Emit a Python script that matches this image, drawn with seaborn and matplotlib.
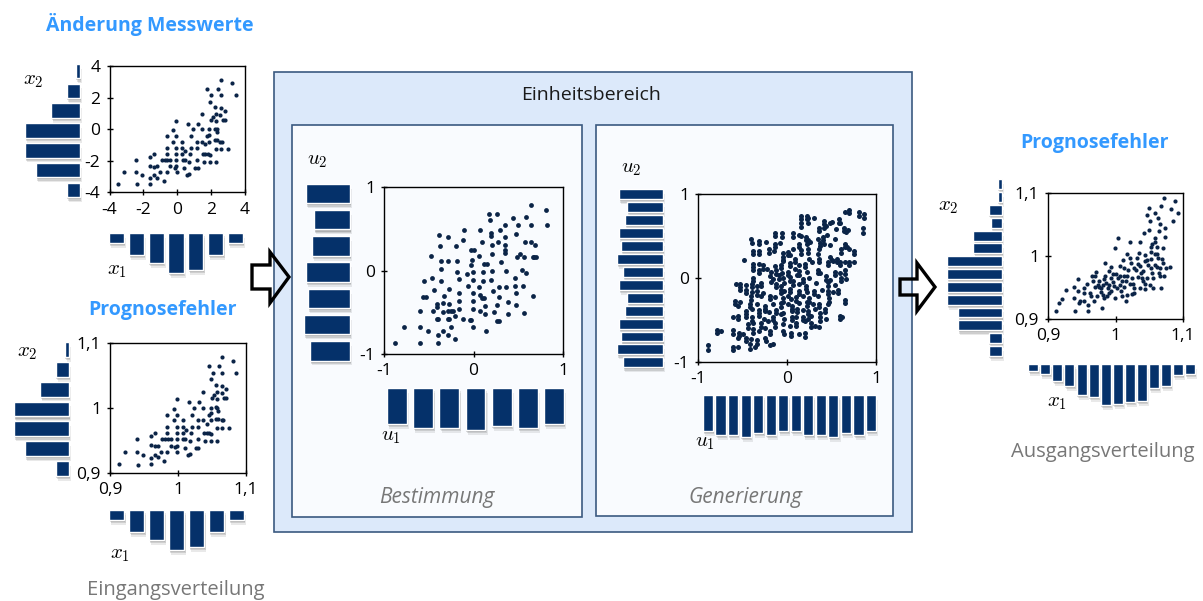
import matplotlib
matplotlib.use("Agg")
import matplotlib.pyplot as plt
import matplotlib.patheffects as pe
from matplotlib.patches import Rectangle, Polygon
import numpy as np
import seaborn as sns

sns.set_style("white")
plt.rcParams["font.family"] = ["Open Sans", "DejaVu Sans"]
plt.rcParams["mathtext.fontset"] = "cm"
plt.rcParams["axes.unicode_minus"] = False

W, H = 1203, 601
NAVY = "#05316A"
DOT = "#0B2447"
TITLE_BLUE = "#3399FF"
GREY_TEXT = "#777777"
FRAME = "#3B5A80"
OUTER_FILL = "#DCE9FA"
INNER_FILL = "#F9FBFE"

# ---------------- data ----------------
# Änderung Messwerte (x1, x2)
change_points = [
    (-3.49, -3.45), (-3.13, -2.67), (-2.44, -1.94), (-2.44, -2.67), (-2.38, -3.47),
    (-2.06, -2.88), (-1.62, -1.73), (-1.35, -1.54), (-1.62, -2.29), (-1.35, -2.36),
    (-1.17, -2.32), (-1.62, -3.07), (-1.62, -3.45), (-1.35, -2.88), (-1.17, -3.05),
    (-0.99, -2.67), (-0.79, -3.24), (-0.91, -1.94), (-0.75, -1.94), (-0.61, -1.94),
    (-0.63, -1.54), (-0.63, -1.16), (-0.63, -0.40), (-0.63, -2.67), (-0.40, -1.94),
    (-0.40, -2.32), (-0.26, -0.78), (-0.26, -0.04), (-0.08, -1.94), (-0.08, -2.32),
    (-0.08, -1.54), (-0.08, -1.16), (-0.08, -0.40), (-0.06, 0.55), (-0.16, -2.42),
    (-0.04, -2.67), (0.28, -0.78), (0.28, -1.16), (0.28, -1.54), (0.32, -1.94),
    (0.44, -1.94), (0.38, -2.46), (0.57, -2.88), (0.67, -2.80), (0.48, -1.35),
    (0.63, 0.36), (0.77, -1.54), (0.83, -0.40), (0.91, 0.00), (0.67, -2.04),
    (0.83, -1.16), (1.15, -0.78), (1.15, -1.16), (1.23, 0.38), (1.05, -2.46),
    (1.21, -2.46), (1.19, -1.94), (1.47, 0.97), (1.47, 0.00), (1.47, -0.78),
    (1.52, -1.54), (1.66, -1.54), (1.58, -2.04), (1.66, -0.95), (1.78, -0.40),
    (1.82, -1.58), (1.94, -1.62), (1.90, -0.78), (1.90, 0.00), (1.90, -0.32),
    (1.94, -2.04), (1.78, 2.55), (1.94, 1.75), (2.02, 2.17), (1.98, 0.63),
    (2.12, 0.80), (2.22, 1.43), (2.26, 1.01), (2.26, 0.57), (2.22, 0.06),
    (2.32, 0.00), (2.36, -0.15), (2.22, -0.69), (2.36, -0.69), (2.26, -1.24),
    (2.26, -2.04), (2.38, 2.55), (2.61, 3.12), (2.61, 2.17), (2.61, 1.37),
    (2.55, 0.91), (2.69, 0.63), (2.81, 0.63), (2.81, 1.20), (2.55, -0.78),
    (2.65, -0.78), (2.61, -1.24), (3.01, -1.24), (3.25, 2.93), (3.45, 2.17),
]

# Prognosefehler, Eingang (x1, x2)
error_in_points = [
    (0.913, 0.914), (0.922, 0.933), (0.939, 0.952), (0.939, 0.933), (0.941, 0.913),
    (0.949, 0.928), (0.960, 0.957), (0.966, 0.962), (0.960, 0.943), (0.966, 0.941),
    (0.971, 0.942), (0.960, 0.923), (0.960, 0.914), (0.966, 0.928), (0.971, 0.924),
    (0.975, 0.933), (0.980, 0.919), (0.977, 0.952), (0.981, 0.952), (0.985, 0.952),
    (0.984, 0.962), (0.984, 0.971), (0.984, 0.990), (0.984, 0.933), (0.990, 0.952),
    (0.990, 0.942), (0.994, 0.981), (0.994, 0.999), (0.998, 0.952), (0.998, 0.942),
    (0.998, 0.962), (0.998, 0.971), (0.998, 0.990), (0.999, 1.014), (0.996, 0.940),
    (0.999, 0.933), (1.007, 0.981), (1.007, 0.971), (1.007, 0.962), (1.008, 0.952),
    (1.011, 0.952), (1.010, 0.939), (1.014, 0.928), (1.017, 0.930), (1.012, 0.966),
    (1.016, 1.009), (1.019, 0.962), (1.021, 0.990), (1.023, 1.000), (1.017, 0.949),
    (1.021, 0.971), (1.029, 0.981), (1.029, 0.971), (1.031, 1.010), (1.026, 0.939),
    (1.030, 0.939), (1.030, 0.952), (1.037, 1.024), (1.037, 1.000), (1.037, 0.981),
    (1.038, 0.962), (1.042, 0.962), (1.040, 0.949), (1.042, 0.976), (1.045, 0.990),
    (1.046, 0.961), (1.049, 0.960), (1.048, 0.981), (1.048, 1.000), (1.048, 0.992),
    (1.049, 0.949), (1.045, 1.064), (1.049, 1.044), (1.051, 1.054), (1.050, 1.016),
    (1.053, 1.020), (1.056, 1.036), (1.057, 1.025), (1.057, 1.014), (1.056, 1.002),
    (1.058, 1.000), (1.059, 0.996), (1.056, 0.983), (1.059, 0.983), (1.057, 0.969),
    (1.057, 0.949), (1.060, 1.064), (1.065, 1.078), (1.065, 1.054), (1.065, 1.034),
    (1.064, 1.023), (1.067, 1.016), (1.070, 1.016), (1.070, 1.030), (1.064, 0.981),
    (1.066, 0.981), (1.065, 0.969), (1.075, 0.969), (1.081, 1.073), (1.086, 1.054),
]

# Einheitsbereich – Bestimmung (u1, u2)
fit_points = [
    (-0.88, -0.87), (-0.78, -0.68), (-0.60, -0.87), (-0.60, -0.68), (-0.60, -0.48),
    (-0.51, -0.72), (-0.56, -0.32), (-0.53, -0.32), (-0.55, -0.12), (-0.46, -0.09),
    (-0.44, -0.23), (-0.45, -0.49), (-0.41, -0.40), (-0.41, -0.44), (-0.41, -0.58),
    (-0.40, -0.58), (-0.40, -0.77), (-0.40, -0.87), (-0.47, 0.17), (-0.39, 0.42),
    (-0.37, 0.29), (-0.36, 0.11), (-0.36, 0.02), (-0.36, -0.12), (-0.34, -0.39),
    (-0.34, -0.50), (-0.34, -0.72), (-0.33, -0.30), (-0.29, 0.40), (-0.28, 0.11),
    (-0.27, -0.22), (-0.27, -0.40), (-0.28, -0.49), (-0.25, -0.49), (-0.23, -0.49),
    (-0.29, -0.58), (-0.27, -0.58), (-0.29, -0.77), (-0.25, -0.68), (-0.21, -0.82),
    (-0.21, -0.54), (-0.20, 0.29), (-0.18, 0.11), (-0.18, -0.02), (-0.16, -0.10),
    (-0.16, -0.27), (-0.16, -0.36), (-0.16, -0.46), (-0.12, 0.37), (-0.11, 0.49),
    (-0.12, -0.58), (-0.07, -0.04), (-0.01, -0.02), (-0.06, -0.18), (-0.04, -0.59),
    (-0.03, -0.59), (-0.03, 0.25), (0.00, 0.25), (-0.03, 0.07), (-0.02, 0.13),
    (-0.01, -0.11), (-0.01, -0.27), (-0.01, -0.37), (-0.01, -0.46), (-0.01, -0.68),
    (0.06, 0.17), (0.07, 0.48), (0.10, 0.34), (0.06, -0.20), (0.07, -0.29),
    (0.07, -0.48), (0.09, -0.33), (0.12, -0.33), (0.12, 0.08), (0.15, 0.08),
    (0.11, -0.02), (0.11, -0.12), (0.13, -0.42), (0.13, -0.52), (0.14, -0.73),
    (0.17, 0.68), (0.26, 0.68), (0.18, 0.60), (0.19, 0.45), (0.20, 0.41),
    (0.21, 0.30), (0.21, 0.20), (0.21, 0.00), (0.20, -0.11), (0.22, -0.24),
    (0.23, -0.50), (0.26, -0.61), (0.29, -0.61), (0.27, 0.34), (0.26, -0.41),
    (0.28, -0.32), (0.28, -0.20), (0.30, 0.49), (0.31, 0.10), (0.35, 0.55),
    (0.35, 0.40), (0.35, 0.30), (0.35, 0.25), (0.35, 0.21), (0.36, 0.00),
    (0.36, -0.20), (0.38, -0.38), (0.39, -0.52), (0.44, 0.63), (0.48, 0.44),
    (0.50, 0.54), (0.49, 0.16), (0.52, 0.20), (0.56, 0.16), (0.46, -0.09),
    (0.46, -0.18), (0.47, -0.27), (0.47, -0.41), (0.54, 0.01), (0.55, -0.18),
    (0.57, 0.34), (0.56, -0.51), (0.59, -0.03), (0.59, 0.64), (0.64, 0.78),
    (0.64, 0.54), (0.64, 0.34), (0.66, -0.31), (0.66, 0.16), (0.68, 0.16),
    (0.70, 0.16), (0.69, 0.30), (0.81, 0.73), (0.82, 0.54),
]

# Einheitsbereich – Generierung (u1, u2)
gen_points = [
    (0.16, 0.74), (0.16, 0.70), (0.22, 0.74), (0.24, 0.71), (0.30, 0.71), (0.65, 0.78),
    (0.70, 0.81), (0.81, 0.79), (0.81, 0.74), (0.87, 0.76),
    (0.16, 0.65), (0.16, 0.61), (0.24, 0.65), (0.42, 0.68), (0.48, 0.65), (0.50, 0.67),
    (0.58, 0.70), (0.59, 0.65), (0.85, 0.59), (0.85, 0.54),
    (0.36, 0.60), (0.42, 0.59), (0.44, 0.62), (0.55, 0.58), (0.64, 0.60), (0.69, 0.57),
    (0.66, 0.55),
    (-0.13, 0.54), (-0.13, 0.50), (-0.06, 0.53), (0.07, 0.53), (0.13, 0.51), (0.16, 0.50),
    (0.21, 0.49), (0.24, 0.45), (0.35, 0.47), (0.40, 0.49), (0.45, 0.51), (0.54, 0.47),
    (-0.40, 0.46), (-0.39, 0.42), (-0.31, 0.44), (-0.24, 0.43), (-0.14, 0.41), (-0.08, 0.42),
    (0.13, 0.41), (0.22, 0.40), (0.26, 0.43), (0.37, 0.42), (0.42, 0.41), (0.48, 0.39),
    (0.65, 0.41), (0.67, 0.37),
    (-0.38, 0.32), (-0.31, 0.32), (-0.20, 0.34), (-0.20, 0.30), (-0.15, 0.32), (-0.04, 0.30),
    (0.01, 0.31), (0.07, 0.34), (0.16, 0.33), (0.24, 0.34), (0.36, 0.34), (0.35, 0.29),
    (0.61, 0.34), (0.70, 0.34), (0.75, 0.32),
    (-0.04, 0.25), (0.03, 0.27), (0.09, 0.23), (0.25, 0.23), (0.36, 0.23), (0.48, 0.25),
    (0.50, 0.21), (0.56, 0.23),
    (-0.48, 0.22), (-0.38, 0.17), (-0.31, 0.17), (-0.27, 0.15), (-0.14, 0.14), (-0.07, 0.16),
    (-0.04, 0.20), (0.03, 0.18), (0.13, 0.15), (0.20, 0.17), (0.28, 0.19), (0.46, 0.19),
    (0.52, 0.20), (0.59, 0.19), (0.65, 0.19), (0.70, 0.19), (0.75, 0.19),
    (-0.38, 0.09), (-0.31, 0.10), (-0.23, 0.11), (-0.18, 0.07), (-0.12, 0.09), (-0.06, 0.06),
    (0.01, 0.07), (0.09, 0.11), (0.13, 0.08), (0.22, 0.07), (0.35, 0.10), (0.37, 0.06),
    (0.54, 0.07), (0.59, 0.06), (0.65, 0.09),
    (-0.38, 0.00), (-0.19, 0.02), (-0.16, -0.01), (-0.09, 0.03), (-0.04, 0.00), (0.03, 0.01),
    (0.11, 0.03), (0.18, -0.01), (0.25, 0.00), (0.44, 0.02), (0.48, -0.02), (0.61, 0.00),
    (0.66, -0.01),
    (-0.57, -0.07), (-0.53, -0.11), (-0.46, -0.08), (-0.39, -0.07), (-0.34, -0.09),
    (-0.29, -0.06), (-0.18, -0.05), (-0.12, -0.07), (-0.07, -0.09), (-0.03, -0.06),
    (0.07, -0.04), (0.13, -0.07), (0.21, -0.09), (0.33, -0.06), (0.46, -0.05), (0.54, -0.08),
    (-0.53, -0.14), (-0.46, -0.14), (-0.39, -0.17), (-0.34, -0.16), (-0.27, -0.18),
    (-0.07, -0.14), (-0.03, -0.16), (0.03, -0.13), (0.14, -0.15), (0.22, -0.17),
    (0.30, -0.15), (0.39, -0.14), (0.46, -0.15), (0.52, -0.17), (0.57, -0.14),
    (-0.58, -0.27), (-0.53, -0.29), (-0.40, -0.22), (-0.29, -0.22), (-0.19, -0.21),
    (-0.13, -0.23), (-0.04, -0.24), (0.01, -0.21), (0.05, -0.25), (0.10, -0.23),
    (0.18, -0.22), (0.25, -0.24), (0.35, -0.22), (0.47, -0.24), (0.65, -0.26),
    (-0.58, -0.31), (-0.55, -0.33), (-0.42, -0.35), (-0.34, -0.31), (-0.25, -0.33),
    (-0.16, -0.31), (-0.07, -0.34), (0.01, -0.31), (0.06, -0.33), (0.13, -0.30),
    (0.22, -0.33), (0.29, -0.31), (0.36, -0.35), (0.46, -0.31), (0.65, -0.30),
    (-0.46, -0.39), (-0.39, -0.37), (-0.31, -0.38), (-0.25, -0.39), (-0.20, -0.41),
    (-0.12, -0.38), (-0.04, -0.42), (0.06, -0.39), (0.11, -0.41), (0.18, -0.38),
    (0.24, -0.39), (0.32, -0.37), (0.37, -0.42), (0.43, -0.37),
    (-0.61, -0.47), (-0.55, -0.45), (-0.46, -0.46), (-0.39, -0.47), (-0.31, -0.45),
    (-0.26, -0.49), (-0.16, -0.46), (-0.07, -0.43), (-0.03, -0.49), (0.06, -0.46),
    (0.10, -0.47), (0.18, -0.46), (0.24, -0.49), (0.27, -0.45), (0.37, -0.47),
    (0.44, -0.49), (0.59, -0.49), (0.62, -0.47),
    (-0.44, -0.55), (-0.38, -0.53), (-0.29, -0.54), (-0.21, -0.51), (-0.14, -0.54),
    (-0.04, -0.55), (0.03, -0.57), (0.10, -0.53), (0.20, -0.51), (0.27, -0.58),
    (0.31, -0.57), (0.36, -0.58),
    (-0.79, -0.62), (-0.74, -0.63), (-0.61, -0.62), (-0.61, -0.67), (-0.54, -0.65),
    (-0.50, -0.67), (-0.38, -0.61), (-0.31, -0.63), (-0.25, -0.59), (-0.19, -0.63),
    (-0.04, -0.63), (-0.03, -0.67), (0.05, -0.65),
    (-0.55, -0.71), (-0.46, -0.71), (-0.40, -0.73), (-0.34, -0.74), (-0.25, -0.71),
    (-0.24, -0.75), (0.13, -0.67), (0.20, -0.70),
    (-0.89, -0.80), (-0.89, -0.86), (-0.61, -0.82), (-0.55, -0.82), (-0.61, -0.86),
    (-0.42, -0.78), (-0.42, -0.84), (-0.36, -0.82), (-0.19, -0.80), (-0.16, -0.78),
    # second points of the generated pairs
    (0.22, 0.70), (0.70, 0.77), (0.87, 0.72), (0.42, 0.64), (0.58, 0.66), (0.36, 0.56),
    (0.64, 0.56), (-0.06, 0.49), (0.07, 0.49), (0.21, 0.45), (0.40, 0.45), (-0.31, 0.40),
    (-0.14, 0.37), (0.13, 0.37), (0.37, 0.38), (0.65, 0.37),
    (-0.38, 0.28), (-0.31, 0.28), (0.01, 0.27), (0.16, 0.29), (0.24, 0.30), (0.61, 0.30),
    (0.75, 0.28), (-0.04, 0.21), (0.09, 0.19), (0.36, 0.19), (0.56, 0.19),
    (-0.38, 0.13), (-0.27, 0.11), (-0.07, 0.12), (0.03, 0.14), (0.20, 0.13), (0.46, 0.15),
    (0.59, 0.15), (0.70, 0.15),
    (-0.31, 0.06), (-0.12, 0.05), (0.01, 0.03), (0.13, 0.04), (0.35, 0.06), (0.54, 0.03),
    (0.65, 0.05), (-0.38, -0.04), (-0.09, -0.01), (0.03, -0.03), (0.18, -0.05), (0.44, -0.02),
    (0.61, -0.04),
    (-0.53, -0.07), (-0.39, -0.11), (-0.29, -0.10), (-0.12, -0.11), (0.07, -0.08),
    (0.21, -0.13), (0.46, -0.09),
    (-0.46, -0.18), (-0.34, -0.20), (-0.07, -0.18), (0.03, -0.17), (0.14, -0.19),
    (0.30, -0.19), (0.46, -0.19), (0.57, -0.18),
    (-0.40, -0.26), (-0.19, -0.25), (-0.04, -0.28), (0.10, -0.27), (0.25, -0.28),
    (0.47, -0.28), (-0.42, -0.31), (-0.25, -0.37), (-0.07, -0.30), (0.06, -0.37),
    (0.22, -0.29), (0.36, -0.31),
    (-0.46, -0.43), (-0.31, -0.42), (-0.12, -0.42), (0.11, -0.37), (0.24, -0.43),
    (0.43, -0.41), (-0.55, -0.49), (-0.39, -0.51), (-0.16, -0.50), (0.06, -0.50),
    (0.18, -0.50), (0.37, -0.51), (0.59, -0.45),
    (-0.44, -0.59), (-0.29, -0.58), (-0.14, -0.58), (0.10, -0.57), (0.27, -0.54),
    (-0.79, -0.66), (-0.54, -0.69), (-0.38, -0.65), (-0.19, -0.67), (0.05, -0.69),
    (-0.46, -0.75), (-0.34, -0.78), (0.20, -0.66),
]

# Prognosefehler, Ausgang (x1, x2)
error_out_points = [
    (0.912, 0.913), (0.917, 0.925), (0.920, 0.932), (0.927, 0.946), (0.939, 0.951),
    (0.939, 0.933), (0.940, 0.912), (0.944, 0.945), (0.945, 0.964), (0.946, 0.925),
    (0.948, 0.928), (0.954, 0.941), (0.958, 0.956), (0.959, 0.923), (0.959, 0.912),
    (0.962, 0.941), (0.964, 0.936), (0.965, 0.969), (0.966, 0.961), (0.968, 0.928),
    (0.970, 0.950), (0.971, 0.975), (0.973, 0.937), (0.974, 0.954), (0.976, 0.951),
    (0.979, 0.949), (0.980, 0.918), (0.981, 0.938), (0.983, 0.933), (0.983, 0.964),
    (0.985, 0.969), (0.986, 0.957), (0.989, 0.949), (0.990, 0.941), (0.985, 0.989),
    (0.990, 0.976), (0.993, 0.965), (0.994, 0.982), (0.996, 0.959), (0.998, 0.952),
    (0.999, 1.013), (0.999, 0.933), (1.001, 0.971), (1.003, 1.028), (1.003, 0.965),
    (1.006, 0.954), (1.008, 0.944), (1.009, 0.937), (1.012, 0.981), (1.011, 0.994),
    (1.013, 0.969), (1.016, 0.961), (1.017, 0.938), (1.016, 0.928), (1.022, 1.022),
    (1.022, 0.997), (1.023, 0.989), (1.024, 0.965), (1.026, 0.955), (1.027, 0.949),
    (1.028, 0.941), (1.031, 0.978), (1.032, 0.997), (1.035, 1.005), (1.036, 1.023),
    (1.036, 0.984), (1.038, 0.973), (1.039, 0.965), (1.041, 0.961), (1.043, 0.955),
    (1.042, 1.037), (1.043, 1.002), (1.044, 0.992), (1.044, 0.948), (1.047, 0.994),
    (1.048, 0.986), (1.050, 1.076), (1.046, 1.065), (1.049, 1.042), (1.051, 1.055),
    (1.052, 1.014), (1.053, 1.007), (1.052, 0.981), (1.054, 0.973), (1.056, 0.965),
    (1.056, 0.949), (1.058, 1.029), (1.058, 1.023), (1.059, 1.068), (1.061, 1.015),
    (1.062, 1.003), (1.063, 0.997), (1.062, 0.982), (1.064, 0.973), (1.066, 0.969),
    (1.064, 1.039), (1.066, 1.050), (1.067, 1.079), (1.068, 0.949), (1.069, 0.996),
    (1.070, 1.013), (1.072, 1.092), (1.072, 0.968), (1.074, 1.030), (1.075, 0.981),
    (1.080, 0.982), (1.082, 1.074), (1.085, 1.055), (1.088, 1.087), (1.093, 1.069),
    (0.969, 0.969), (0.975, 0.961), (0.978, 0.943), (0.988, 0.936), (0.991, 0.954),
    (0.996, 0.971), (1.002, 0.949), (1.007, 0.969), (1.013, 0.950), (1.019, 0.978),
    (1.021, 0.955), (1.024, 0.940), (1.033, 0.966), (1.036, 0.949), (1.041, 0.976),
    (1.047, 0.965), (1.051, 0.954), (1.053, 0.996), (1.058, 0.986), (1.066, 0.981),
    (1.070, 0.989), (1.058, 1.003), (1.054, 1.019), (1.063, 1.061), (1.073, 1.045),
    (1.033, 0.987), (1.027, 0.981), (1.017, 0.968), (1.009, 0.960), (0.954, 0.928),
    (0.953, 0.949), (0.981, 0.954), (0.994, 0.944), (1.017, 1.003), (1.006, 0.984),
]

# Randhistogramme (Klassenhäufigkeiten)
in_hist_x2 = [2, 6, 13, 25, 25, 20, 6]
in_hist_x1 = [6, 13, 18, 24, 22, 13, 6]
fit_hist_u2 = [22, 18, 19, 22, 21, 23, 20]
fit_hist_u1 = [18, 20, 20, 21, 19, 20, 18]
gen_hist_u2 = [22, 18, 19, 22, 21, 23, 20, 22, 18, 19, 22, 21, 23, 20]
gen_hist_u1 = [18, 20, 20, 21, 19, 20, 18, 18, 20, 20, 21, 19, 20, 18]
out_hist_x2 = [2, 2, 6, 5, 13, 13, 25, 25, 25, 25, 20, 20, 6, 6]
out_hist_x1 = [7, 10, 17, 22, 31, 33, 41, 40, 38, 37, 24, 22, 11, 10]

change_ticks = [-4, -2, 0, 2, 4]
change_labels = ["-4", "-2", "0", "2", "4"]
error_ticks = [0.9, 1.0, 1.1]
error_labels = ["0,9", "1", "1,1"]
unit_ticks = [-1, 0, 1]
unit_labels = ["-1", "0", "1"]

# ---------------- figure ----------------
fig = plt.figure(figsize=(W / 100, H / 100), dpi=100)
bg = fig.add_axes([0, 0, 1, 1])
bg.set_xlim(0, W)
bg.set_ylim(H, 0)
bg.axis("off")


def px_axes(x0, y0, x1, y1):
    return fig.add_axes([x0 / W, 1 - y1 / H, (x1 - x0) / W, (y1 - y0) / H])


# soft drop shadow built from a few faint offset copies
SHADOW = [
    pe.SimplePatchShadow(offset=(0.5, -1.5), shadow_rgbFace="#303030", alpha=0.18),
    pe.SimplePatchShadow(offset=(1.0, -2.5), shadow_rgbFace="#303030", alpha=0.14),
    pe.SimplePatchShadow(offset=(1.5, -3.5), shadow_rgbFace="#303030", alpha=0.10),
    pe.Normal(),
]


def scatter_panel(rect, points, lims, ticks, labels, size, face="white"):
    ax = px_axes(*rect)
    xs = [p[0] for p in points]
    ys = [p[1] for p in points]
    sns.scatterplot(x=xs, y=ys, ax=ax, color=DOT, s=size, linewidth=0, legend=False)
    ax.set_xlim(lims)
    ax.set_ylim(lims)
    ax.set_xticks(ticks)
    ax.set_xticklabels(labels)
    ax.set_yticks(ticks)
    ax.set_yticklabels(labels)
    ax.set_facecolor(face)
    for s in ax.spines.values():
        s.set_visible(True)
        s.set_color("black")
        s.set_linewidth(1.0)
    ax.tick_params(direction="inout", length=5, width=1, labelsize=12.5, pad=4,
                   colors="black", left=True, bottom=True)
    return ax


def hbars(rect, counts, cmax, frac):
    ax = px_axes(*rect)
    pos = np.arange(len(counts))
    bars = ax.barh(pos, counts, height=frac, color=NAVY, clip_on=False)
    for b in bars:
        b.set_path_effects(SHADOW)
    ax.set_xlim(cmax, 0)
    ax.set_ylim(len(counts) - 0.5, -0.5)
    ax.axis("off")
    ax.patch.set_visible(False)
    return ax


def vbars(rect, counts, cmax, frac):
    ax = px_axes(*rect)
    pos = np.arange(len(counts))
    bars = ax.bar(pos, counts, width=frac, color=NAVY, clip_on=False)
    for b in bars:
        b.set_path_effects(SHADOW)
    ax.set_ylim(cmax, 0)
    ax.set_xlim(-0.5, len(counts) - 0.5)
    ax.axis("off")
    ax.patch.set_visible(False)
    return ax


# frames of the unit domain
bg.add_patch(Rectangle((274, 72), 638, 460, facecolor=OUTER_FILL, edgecolor=FRAME, lw=1.2, zorder=1))
bg.add_patch(Rectangle((292, 125), 290, 392, facecolor=INNER_FILL, edgecolor=FRAME, lw=1.2, zorder=2))
bg.add_patch(Rectangle((596, 125), 297, 391, facecolor=INNER_FILL, edgecolor=FRAME, lw=1.2, zorder=2))

# transfer arrows
arrow_in = [(252, 265), (270, 265), (270, 252), (289, 277), (270, 303), (270, 289), (252, 289)]
arrow_out = [(900, 279), (917, 279), (917, 263), (935, 287), (917, 311), (917, 295), (900, 295)]
for poly in (arrow_in, arrow_out):
    bg.add_patch(Polygon(poly, closed=True, facecolor="none", edgecolor="black",
                         lw=2.4, joinstyle="miter", zorder=5))

# texts
bg.text(150, 24, "Änderung Messwerte", color=TITLE_BLUE, fontsize=14, fontweight="bold",
        ha="center", va="center")
bg.text(162, 310, "Prognosefehler", color=TITLE_BLUE, fontsize=14, fontweight="bold",
        ha="center", va="center")
bg.text(1095, 143, "Prognosefehler", color=TITLE_BLUE, fontsize=14, fontweight="bold",
        ha="center", va="center")
bg.text(591, 95, "Einheitsbereich", color="#1A1A1A", fontsize=14, ha="center", va="center", zorder=6)
bg.text(176, 590, "Eingangsverteilung", color=GREY_TEXT, fontsize=14.5, ha="center", va="center")
bg.text(1103, 452, "Ausgangsverteilung", color=GREY_TEXT, fontsize=14.5, ha="center", va="center")
bg.text(437, 498, "Bestimmung", color=GREY_TEXT, fontsize=15, style="italic",
        ha="center", va="center", zorder=6)
bg.text(745, 498, "Generierung", color=GREY_TEXT, fontsize=15, style="italic",
        ha="center", va="center", zorder=6)

for (x, y, s) in [(33, 80, r"$x_2$"), (117, 270, r"$x_1$"), (27, 352, r"$x_2$"),
                  (120, 553, r"$x_1$"), (317, 160, r"$u_2$"), (391, 436, r"$u_1$"),
                  (631, 167, r"$u_2$"), (705, 442, r"$u_1$"), (948, 205, r"$x_2$"),
                  (1057, 401, r"$x_1$")]:
    bg.text(x, y, s, fontsize=15, color="black", ha="center", va="center", zorder=6)

# Änderung Messwerte
scatter_panel((109.5, 66.5, 245, 192.5), change_points, (-4, 4), change_ticks, change_labels, 9)
hbars((25, 61.1, 80, 199.9), in_hist_x2, 25, 0.73)
vbars((106.6, 233, 245.4, 273), in_hist_x1, 24, 0.76)

# Prognosefehler (Eingang)
scatter_panel((110, 343, 246, 473), error_in_points, (0.9, 1.1), error_ticks, error_labels, 9)
hbars((14, 339.6, 69, 478.4), in_hist_x2, 25, 0.75)
vbars((106.8, 510, 246.5, 550), in_hist_x1, 24, 0.76)

# Bestimmung
scatter_panel((384, 187, 563, 354), fit_points, (-1, 1), unit_ticks, unit_labels, 12, INNER_FILL)
hbars((304, 180.4, 350, 364), fit_hist_u2, 23, 0.74)
vbars((384, 388, 567, 430), fit_hist_u1, 21, 0.76)

# Generierung
scatter_panel((698, 194, 876, 362), gen_points, (-1, 1), unit_ticks, unit_labels, 13, INNER_FILL)
hbars((617, 187.9, 663, 368.8), gen_hist_u2, 23, 0.77)
vbars((701.7, 395, 877.3, 437), gen_hist_u1, 21, 0.8)

# Prognosefehler (Ausgang)
scatter_panel((1048, 193, 1183, 319), error_out_points, (0.9, 1.1), error_ticks, error_labels, 9)
hbars((947, 177.9, 1002, 357.4), out_hist_x2, 25, 0.77)
vbars((1027.3, 364, 1196, 405), out_hist_x1, 41, 0.83)

fig.savefig("out.png", dpi=100)
